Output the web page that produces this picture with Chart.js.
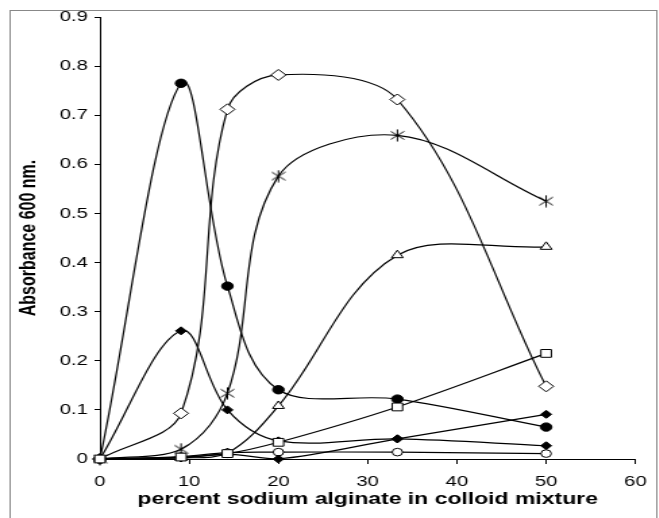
<!DOCTYPE html>
<html>
<head>
<meta charset="utf-8">
<script src="https://cdn.jsdelivr.net/npm/chart.js"></script>
<style>
  body { margin: 0; background: #fff; overflow: hidden; }
  /* the original picture is stretched sideways, so the chart is too */
  #wrap { width: 488px; height: 518px; transform: scaleX(1.35); transform-origin: 0 0; }
</style>
</head>
<body>
<div id="wrap"><canvas id="mycanvas" width="488" height="518"></canvas></div>
<script>
// percent sodium alginate (1/11, 1/7, 1/5, 1/3, 1/2)
var alginate = [0, 9.09, 14.29, 20, 33.33, 50];

var filledCircle  = [0, 0.765, 0.352, 0.141, 0.122, 0.065];
var openDiamond   = [0, 0.093, 0.712, 0.782, 0.732, 0.148];
var asterisk      = [0, 0.020, 0.134, 0.576, 0.659, 0.525];
var openTriangle  = [0, 0.002, 0.012, 0.108, 0.415, 0.432];
var openSquare    = [0, 0.004, 0.011, 0.034, 0.106, 0.215];
var filledDiamA   = [0, 0.261, 0.100, 0.037, 0.041, 0.027];
var filledDiamB   = [0, 0.002, 0.010, 0.000, 0.041, 0.091];
var openCircle    = [0, 0.005, 0.013, 0.014, 0.014, 0.011];

var xLabels = ['0', '10', '20', '30', '40', '50', '60'];
var yLabels = ['0', '0.1', '0.2', '0.3', '0.4', '0.5', '0.6', '0.7', '0.8', '0.9'];

var font = "'Liberation Sans', Arial, sans-serif";

// asterisk marker
var star = document.createElement('canvas');
star.width = 11;
star.height = 13;
var sc = star.getContext('2d');
sc.strokeStyle = '#000';
sc.lineWidth = 1;
sc.beginPath();
sc.moveTo(5.5, 0.5); sc.lineTo(5.5, 12.5);
sc.moveTo(0.5, 2.5); sc.lineTo(10.5, 10.5);
sc.moveTo(10.5, 2.5); sc.lineTo(0.5, 10.5);
sc.stroke();

function points(vals) {
  var pts = [];
  for (var i in vals) {
    pts.push({x: alginate[i], y: vals[i]});
  }
  return pts;
}

function series(vals, style, radius, fillCol) {
  return {
    data: points(vals),
    showLine: true,
    fill: false,
    tension: 0.35,
    clip: false,
    borderColor: '#000',
    borderWidth: 1.2,
    pointStyle: style,
    pointRadius: radius,
    pointBackgroundColor: fillCol,
    pointBorderColor: '#000',
    pointBorderWidth: 1
  };
}

var frame = {
  id: 'frame',
  beforeDraw: function(chart) {
    var ctx = chart.ctx;
    ctx.save();
    ctx.strokeStyle = '#888';
    ctx.lineWidth = 1;
    ctx.strokeRect(7.5, 10.5, 479, 530);
    ctx.restore();
  }
};

var ctx = document.getElementById('mycanvas');

var chart = new Chart(ctx, {
  type: 'scatter',
  data: {
    datasets: [
      series(openSquare, 'rect', 5.5, '#fff'),
      series(openTriangle, 'triangle', 5, '#fff'),
      series(filledDiamB, 'rectRot', 4, '#000'),
      series(filledDiamA, 'rectRot', 4, '#000'),
      series(openCircle, 'circle', 3.8, '#fff'),
      series(asterisk, star, 6, '#000'),
      series(filledCircle, 'circle', 4.2, '#000'),
      series(openDiamond, 'rectRot', 5.5, '#fff')
    ]
  },
  plugins: [frame],
  options: {
    responsive: false,
    animation: false,
    layout: { padding: { top: 17, right: 8, left: 0, bottom: 0 } },
    plugins: {
      legend: { display: false },
      tooltip: { enabled: false }
    },
    scales: {
      x: {
        type: 'linear',
        min: 0,
        max: 60,
        ticks: {
          stepSize: 10,
          color: '#000',
          padding: 9,
          font: { family: font, size: 15 },
          callback: function(v, i) { return xLabels[i]; }
        },
        grid: { drawOnChartArea: false, color: '#000', tickLength: 5 },
        border: { color: '#000', width: 1 },
        title: {
          display: true,
          text: 'percent sodium alginate in colloid mixture',
          color: '#000',
          font: { family: font, size: 17, weight: 'bold' },
          padding: { top: 0, bottom: 8 }
        },
        afterFit: function(scale) { scale.height = 59; }
      },
      y: {
        min: 0,
        max: 0.9,
        ticks: {
          stepSize: 0.1,
          color: '#000',
          padding: 5,
          font: { family: font, size: 15 },
          callback: function(v, i) { return yLabels[i]; }
        },
        grid: { drawOnChartArea: false, color: '#000', tickLength: 4 },
        border: { color: '#000', width: 1 },
        title: {
          display: true,
          text: 'Absorbance 600 nm.',
          color: '#000',
          font: { family: font, size: 16, weight: 'bold' },
          padding: { top: 12, bottom: 0 }
        },
        afterFit: function(scale) { scale.width = 74; }
      }
    }
  }
});
</script>
</body>
</html>
